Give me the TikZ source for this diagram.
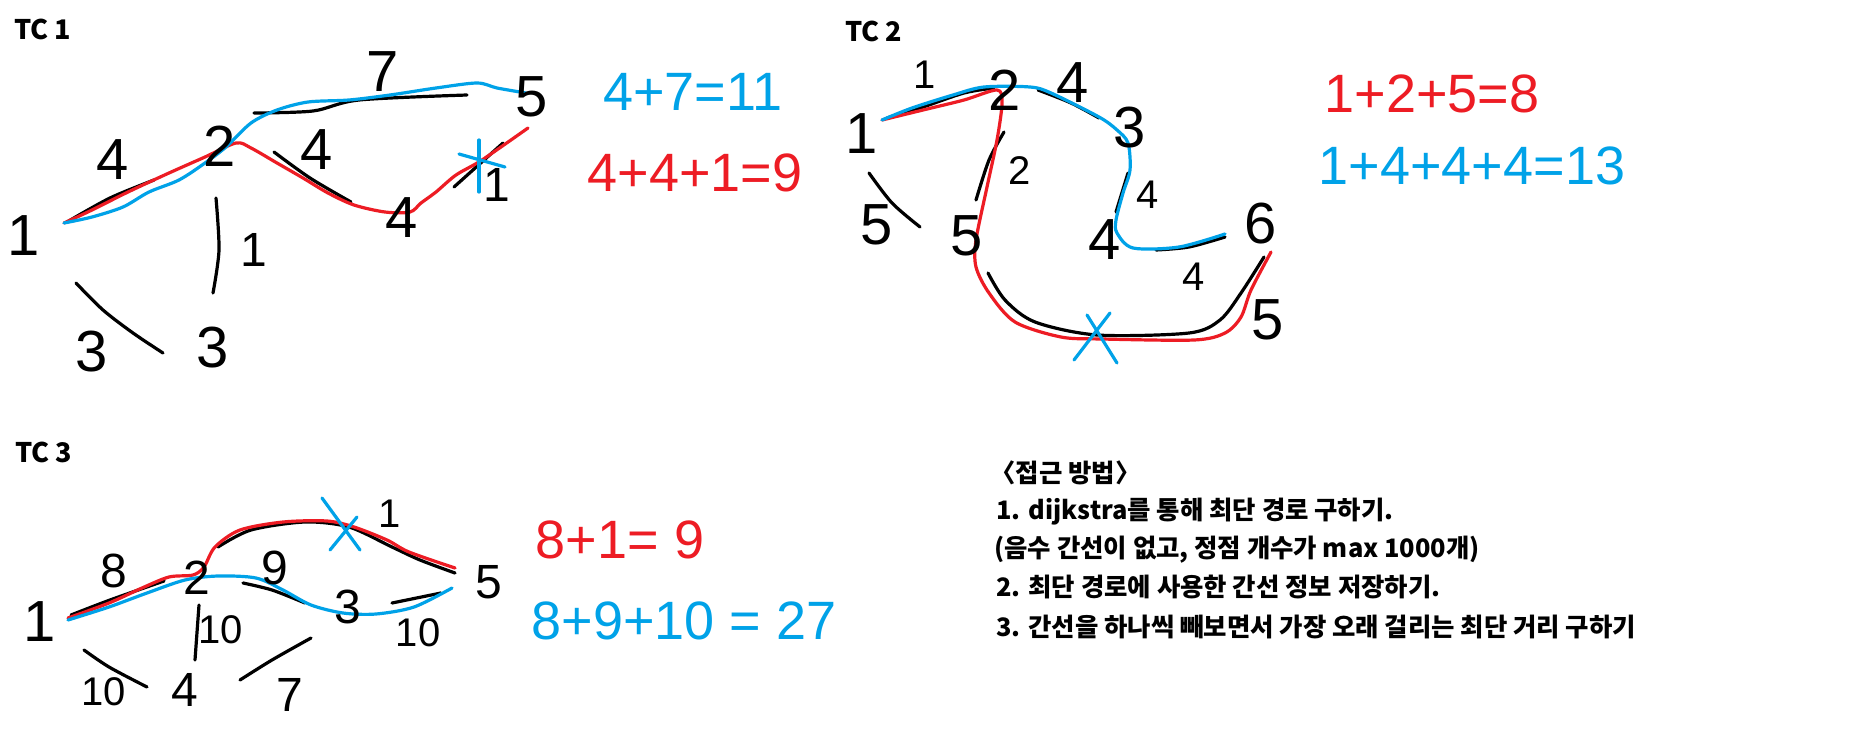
\documentclass[tikz,border=0pt]{standalone}
\usepackage{fontspec}
\newfontfamily\hw{Liberation Sans}
\newfontfamily\kr{Noto Sans CJK KR}
\definecolor{pblue}{HTML}{00A2E8}
\definecolor{pred}{HTML}{ED1C24}
\begin{document}
\begin{tikzpicture}[x=0.5pt,y=-0.5pt,line cap=round,line join=round,
  stroke/.style={line width=1.6pt},
  bk/.style={stroke,black},
  bl/.style={stroke,pblue},
  rd/.style={stroke,pred},
  dig/.style={font=\hw\fontsize{29}{29}\selectfont,inner sep=0},
  digm/.style={font=\hw\fontsize{24}{24}\selectfont,inner sep=0},
  digs/.style={font=\hw\fontsize{20}{20}\selectfont,inner sep=0},
  eq/.style={font=\hw\fontsize{27}{27}\selectfont,inner sep=0},
  tc/.style={font=\kr\bfseries\fontsize{13.5}{13.5}\selectfont,inner sep=0,anchor=west},
  kt/.style={font=\kr\bfseries\fontsize{12.7}{12.7}\selectfont,inner sep=0,anchor=base west}]
\useasboundingbox (0,0) rectangle (1866,744);
\fill[white] (0,0) rectangle (1866,744);

% ================= TC 1 =================
\node[tc] (tc1) at (14,29) {TC 1};
% black strokes
\draw[bk] plot[smooth] coordinates {(67,222) (110,198) (154,180)};
\draw[bk] plot[smooth] coordinates {(254,113) (313,111) (359,100) (467,95)};
\draw[bk] plot[smooth] coordinates {(274,152) (310,178) (351,202)};
\draw[bk] (454,187) -- (503,143);
\draw[bk] plot[smooth] coordinates {(216,198) (219,250) (213,293)};
\draw[bk] plot[smooth] coordinates {(76,283) (103,310) (133,333) (163,353)};
% red path
\draw[rd] plot[smooth,tension=0.5] coordinates {(64,223) (92,210) (128,192) (169,173) (205,157) (236,143) (251,148) (277,163) (303,178) (328,193) (354,205) (385,212) (410,212) (421,203) (436,192) (456,175) (482,160) (528,128)};
% blue path
\draw[bl] plot[smooth,tension=0.5] coordinates {(64,223) (92,217) (123,207) (149,192) (179,180) (205,163) (226,147) (251,123) (277,110) (308,102) (349,100) (390,95) (436,88) (477,83) (497,88) (526,93)};
% blue X
\draw[bl] (479,140) -- (479,192);
\draw[bl] (459,154) -- (505,167);
% digits
\node[dig] (a1) at (24,236) {1};
\node[dig] (a2) at (220,146) {2};
\node[dig] (a5) at (532,97) {5};
\node[dig] (a4) at (402,218) {4};
\node[dig] (a3l) at (92,352) {3};
\node[dig] (a3r) at (213,348) {3};
\node[dig] (w12) at (113,160) {4};
\node[dig] (w25) at (383,72) {7};
\node[dig] (w24) at (317,150) {4};
\node[digm] (w45) at (497,185) {1};
\node[digm] (w23) at (254,250) {1};
\node[eq,text=pblue] (e1b) at (693,92) {4+7=11};
\node[eq,text=pred] (e1r) at (695,173) {4+4+1=9};

% ================= TC 2 =================
\node[tc] (tc2) at (845,31) {TC 2};
\draw[bk] plot[smooth] coordinates {(887,118) (923,107) (964,93) (994,88)};
\draw[bk] plot[smooth] coordinates {(1038,90) (1071,103) (1099,118)};
\draw[bk] plot[smooth] coordinates {(1004,132) (989,160) (976,200)};
\draw[bk] (1128,173) -- (1116,212);
\draw[bk] plot[smooth] coordinates {(869,173) (892,203) (920,227)};
\draw[bk] plot[smooth] coordinates {(1156,250) (1189,247) (1225,237)};
\draw[bk] plot[smooth,tension=0.5] coordinates {(988,273) (1005,300) (1035,322) (1097,335) (1189,333) (1220,320) (1241,293) (1264,257)};
\draw[rd] plot[smooth,tension=0.5] coordinates {(882,120) (923,110) (964,100) (997,90) (1002,103) (997,140) (987,187) (976,240) (976,267) (989,293) (1015,322) (1061,337) (1102,339) (1194,340) (1225,333) (1241,317) (1251,290) (1271,252)};
\draw[bl] plot[smooth,tension=0.5] coordinates {(882,120) (912,108) (953,95) (984,87) (1030,87) (1051,93) (1099,117) (1117,130) (1128,143) (1130,170) (1123,193) (1116,220) (1117,233) (1133,248) (1179,247) (1225,234)};
\draw[bl] (1074,360) -- (1110,313);
\draw[bl] (1087,315) -- (1117,363);
\node[dig] (b1) at (862,134) {1};
\node[dig] (b2) at (1005,90) {2};
\node[dig] (b3) at (1130,128) {3};
\node[dig] (b5) at (967,236) {5};
\node[dig] (b4) at (1105,240) {4};
\node[dig] (b6) at (1261,224) {6};
\node[digs] (v12) at (925,75) {1};
\node[dig] (v23) at (1073,83) {4};
\node[digs] (v25) at (1020,171) {2};
\node[digs] (v34) at (1148,195) {4};
\node[dig] (v15) at (877,225) {5};
\node[digs] (v46) at (1194,277) {4};
\node[dig] (v56) at (1268,320) {5};
\node[eq,text=pred] (e2r) at (1432,94) {1+2+5=8};
\node[eq,text=pblue] (e2b) at (1472,166) {1+4+4+4=13};

% ================= TC 3 =================
\node[tc] (tc3) at (15,452) {TC 3};
\draw[bk] plot[smooth] coordinates {(71,615) (110,600) (164,581)};
\draw[bk] plot[smooth,tension=0.5] coordinates {(218,547) (251,530) (305,522) (349,527) (392,547) (420,560) (455,573)};
\draw[bk] plot[smooth] coordinates {(243,583) (272,590) (305,603)};
\draw[bk] (392,603) -- (441,593);
\draw[bk] (199,605) -- (195,660);
\draw[bk] plot[smooth] coordinates {(84,650) (109,667) (147,687)};
\draw[bk] plot[smooth] coordinates {(240,680) (272,660) (311,638)};
\draw[rd] plot[smooth,tension=0.5] coordinates {(68,618) (109,603) (142,588) (169,577) (193,575) (204,567) (215,547) (240,530) (283,522) (327,521) (354,527) (387,540) (409,552) (455,568)};
\draw[bl] plot[smooth,tension=0.5] coordinates {(68,620) (109,607) (147,593) (185,580) (218,576) (256,578) (283,590) (311,605) (343,613) (376,614) (414,607) (452,588)};
\draw[bl] (322,498) -- (360,550);
\draw[bl] (330,550) -- (357,517);
\node[dig] (c1) at (40,622) {1};
\node[digm] (c2) at (197,578) {2};
\node[digm] (c3) at (348,607) {3};
\node[digm] (c5) at (489,582) {5};
\node[digm] (c4) at (185,690) {4};
\node[digm] (u12) at (114,571) {8};
\node[digm] (u23) at (275,568) {9};
\node[digs] (u25) at (390,514) {1};
\node[digs] (u24) at (221,630) {10};
\node[digs] (u35) at (418,633) {10};
\node[digs] (u14) at (104,692) {10};
\node[digm] (u34) at (290,695) {7};
\node[eq,text=pred] (e3r) at (620,540) {8+1= 9};
\node[eq,text=pblue] (e3b) at (684,621) {8+9+10 = 27};

% ================= Text =================
\node[kt] (k0) at (990,482) {〈접근 방법〉};
\node[kt] (k1) at (996,519) {1. dijkstra를 통해 최단 경로 구하기.};
\node[kt] (k2) at (994,557) {(음수 간선이 없고, 정점 개수가 max 1000개)};
\node[kt] (k3) at (996,596) {2. 최단 경로에 사용한 간선 정보 저장하기.};
\node[kt] (k4) at (996,636) {3. 간선을 하나씩 빼보면서 가장 오래 걸리는 최단 거리 구하기};
\end{tikzpicture}
\end{document}
